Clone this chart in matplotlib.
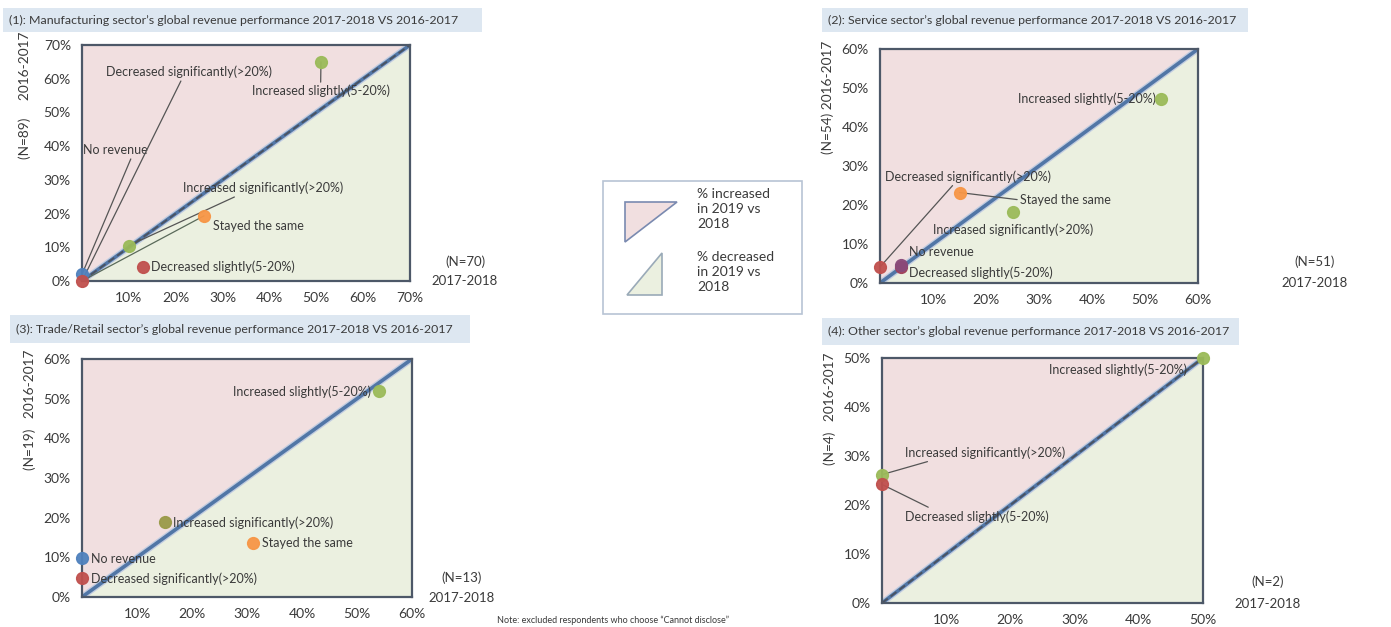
import matplotlib
matplotlib.use("Agg")
import matplotlib.pyplot as plt
from matplotlib.patches import Polygon, Rectangle

plt.rcParams['font.family'] = ['Lato', 'DejaVu Sans']

W, H = 1391, 627

# ---------------- data ----------------
titles = [
    "(1): Manufacturing sector\u2019s global revenue performance 2017-2018 VS 2016-2017",
    "(2): Service sector\u2019s global revenue performance 2017-2018 VS 2016-2017",
    "(3): Trade/Retail sector\u2019s global revenue performance 2017-2018 VS 2016-2017",
    "(4): Other sector\u2019s global revenue performance 2017-2018 VS 2016-2017",
]
n_prev = ["(N=89)", "(N=54)", "(N=19)", "(N=4)"]
n_curr = ["(N=70)", "(N=51)", "(N=13)", "(N=2)"]
axis_max = [70, 60, 60, 50]

# points: label, x = 2017-2018 %, y = 2016-2017 %, colour
p1_labels = ["No revenue", "Decreased significantly(>20%)", "Increased slightly(5-20%)",
             "Increased significantly(>20%)", "Stayed the same", "Decreased slightly(5-20%)"]
p1_x = [0, 0, 51, 10, 26, 13]
p1_y = [2, 0, 65, 10.5, 19.3, 4.2]
p1_c = ["#4f81bd", "#c0504d", "#9bbb59", "#9bbb59", "#f79646", "#c0504d"]

p2_labels = ["Increased slightly(5-20%)", "Decreased significantly(>20%)", "Stayed the same",
             "Increased significantly(>20%)", "Decreased slightly(5-20%)", "No revenue"]
p2_x = [53, 0, 15, 25, 4, 4]
p2_y = [47.2, 4.1, 23.2, 18.2, 4.0, 4.6]
p2_c = ["#9bbb59", "#c0504d", "#f79646", "#9bbb59", "#a0405a", "#8a4a7a"]

p3_labels = ["Increased slightly(5-20%)", "Increased significantly(>20%)", "Stayed the same",
             "No revenue", "Decreased significantly(>20%)"]
p3_x = [54, 15, 31, 0, 0]
p3_y = [52, 19, 13.7, 9.8, 4.8]
p3_c = ["#9bbb59", "#9a9a48", "#f79646", "#4f81bd", "#c0504d"]

p4_labels = ["Increased slightly(5-20%)", "Increased significantly(>20%)", "Decreased slightly(5-20%)"]
p4_x = [50, 0, 0]
p4_y = [50, 26.2, 24.2]
p4_c = ["#9bbb59", "#9bbb59", "#c0504d"]

# ---------------- layout ----------------
fig = plt.figure(figsize=(W / 100, H / 100), dpi=100)
fig.patch.set_facecolor("white")

bg = fig.add_axes([0, 0, 1, 1])
bg.set_xlim(0, W)
bg.set_ylim(H, 0)
bg.axis("off")

TXT = "#3a3a3a"
PINK = "#f1dfe0"
GREEN = "#ebf0e0"
LINE = "#5176a6"

def px_axes(l, t, r, b):
    return fig.add_axes([l / W, 1 - b / H, (r - l) / W, (b - t) / H])

panel_px = [(82, 45, 410, 281), (880, 49, 1198, 283), (82, 359, 412, 597), (882, 358, 1203, 603)]
title_band = [(3, 8, 482, 32), (822, 8, 1248, 32), (10, 315, 470, 343), (822, 318, 1239, 345)]
ylab_pos = [(25, 95), (828, 97), (30, 410), (830, 409)]
ylab_txt = ["(N=89)     2016-2017", "(N=54) 2016-2017", "(N=19)   2016-2017", "(N=4)   2016-2017"]
nlab_pos = [(465, 262, 281), (1315, 262, 283), (462, 578, 598), (1268, 582, 604)]

TFS = 8.9
for i in range(4):
    l, t, r, b = title_band[i]
    bg.add_patch(Rectangle((l, t), r - l, b - t, facecolor="#dde7f1", edgecolor="none"))
    bg.text(l + 6, (t + b) / 2, titles[i], fontsize=TFS, color=TXT, va="center", ha="left")
    x, y = ylab_pos[i]
    bg.text(x, y, ylab_txt[i], rotation=90, fontsize=9.8, color=TXT, ha="center", va="center")
    x, y1, y2 = nlab_pos[i]
    bg.text(x, y1, n_curr[i], fontsize=9.5, color=TXT, ha="center", va="center")
    bg.text(x, y2, "2017-2018", fontsize=9.5, color=TXT, ha="center", va="center")

# note
bg.text(497, 620, "Note: excluded respondents who choose \u201cCannot disclose\u201d",
        fontsize=6.5, color=TXT, ha="left", va="center")

# legend
bg.add_patch(Rectangle((603, 181), 199, 133, facecolor="white", edgecolor="#b8c4d4", lw=1.2))
bg.add_patch(Polygon([(625, 202), (677, 202), (625, 242)], closed=True,
                     facecolor=PINK, edgecolor="#7a8ab0", lw=1.2))
bg.add_patch(Polygon([(662, 253), (662, 295), (627, 295)], closed=True,
                     facecolor=GREEN, edgecolor="#9aaab8", lw=1.2))
bg.text(697, 188, "% increased\nin 2019 vs\n2018", fontsize=10, color=TXT, va="top", ha="left",
        linespacing=1.3)
bg.text(697, 251, "% decreased\nin 2019 vs\n2018", fontsize=10, color=TXT, va="top", ha="left",
        linespacing=1.3)

def setup(ax, m, dashed):
    ax.set_xlim(0, m)
    ax.set_ylim(0, m)
    ax.add_patch(Polygon([(0, 0), (0, m), (m, m)], closed=True, facecolor=PINK, edgecolor="none", zorder=0))
    ax.add_patch(Polygon([(0, 0), (m, 0), (m, m)], closed=True, facecolor=GREEN, edgecolor="none", zorder=0))
    ax.plot([0, m], [0, m], color="#c2cde0", lw=4.5, zorder=1, solid_capstyle="butt")
    ax.plot([0, m], [0, m], color=LINE, lw=2.6, zorder=1, solid_capstyle="butt")
    if dashed:
        ax.plot([0, m], [0, m], color="#4a5260", lw=1.3, ls=(0, (4, 2)), zorder=1)
    yt = list(range(0, m + 1, 10))
    ax.set_yticks(yt)
    ax.set_yticklabels([f"{v}%" for v in yt])
    xt = list(range(10, m + 1, 10))
    ax.set_xticks(xt)
    ax.set_xticklabels([f"{v}%" for v in xt])
    ax.tick_params(length=0, labelsize=10, colors=TXT, pad=8)
    for s in ax.spines.values():
        s.set_color("#4d5868")
        s.set_linewidth(1.6)
    for lab in ax.get_xticklabels() + ax.get_yticklabels():
        lab.set_color(TXT)

def pts(ax, xs, ys, cs):
    for x, y, c in zip(xs, ys, cs):
        ax.plot(x, y, "o", ms=8.5, color=c, zorder=5, clip_on=False, alpha=0.95)

lead = dict(arrowstyle="-", color="#555555", lw=0.9, shrinkA=0, shrinkB=0)
fs = 9.0

# panel 1
ax1 = px_axes(*panel_px[0]); setup(ax1, 70, True)
ax1.plot([p1_x[4], 0], [p1_y[4], 0], color="#5a6a5a", lw=0.9, zorder=2)
pts(ax1, p1_x, p1_y, p1_c)
ax1.annotate(p1_labels[0], xy=(p1_x[0], p1_y[0]), xytext=(0.3, 38.8), fontsize=fs, color=TXT,
             va="center", ha="left", arrowprops=dict(lead, relpos=(0.75, 0)))
ax1.annotate(p1_labels[1], xy=(p1_x[1], p1_y[1]), xytext=(5.1, 62), fontsize=fs, color=TXT,
             va="center", ha="left", arrowprops=dict(lead, relpos=(0.46, 0)))
ax1.annotate(p1_labels[2], xy=(p1_x[2], p1_y[2]), xytext=(36.2, 56.3), fontsize=fs, color=TXT,
             va="center", ha="left", arrowprops=dict(lead, relpos=(0.5, 1)))
ax1.annotate(p1_labels[3], xy=(p1_x[3], p1_y[3]), xytext=(21.5, 27.6), fontsize=fs, color=TXT,
             va="center", ha="left", arrowprops=dict(lead, relpos=(0.36, 0)))
ax1.text(28, 16.2, p1_labels[4], fontsize=fs, color=TXT, va="center", ha="left")
ax1.text(14.8, 4.2, p1_labels[5], fontsize=fs, color=TXT, va="center", ha="left")

# panel 2
ax2 = px_axes(*panel_px[1]); setup(ax2, 60, False)
pts(ax2, p2_x, p2_y, p2_c)
ax2.text(52, 47.2, p2_labels[0], fontsize=fs, color=TXT, va="center", ha="right")
ax2.annotate(p2_labels[1], xy=(p2_x[1], p2_y[1]), xytext=(1, 27.3), fontsize=fs, color=TXT,
             va="center", ha="left", arrowprops=dict(lead, relpos=(0.42, 0)))
ax2.annotate(p2_labels[2], xy=(p2_x[2], p2_y[2]), xytext=(26.4, 21.3), fontsize=fs, color=TXT,
             va="center", ha="left", arrowprops=dict(lead, relpos=(0, 0.5)))
ax2.text(10, 13.6, p2_labels[3], fontsize=fs, color=TXT, va="center", ha="left")
ax2.text(5.5, 2.6, p2_labels[4], fontsize=fs, color=TXT, va="center", ha="left")
ax2.text(5.5, 8.0, p2_labels[5], fontsize=fs, color=TXT, va="center", ha="left")

# panel 3
ax3 = px_axes(*panel_px[2]); setup(ax3, 60, False)
pts(ax3, p3_x, p3_y, p3_c)
ax3.text(52.5, 51.7, p3_labels[0], fontsize=fs, color=TXT, va="center", ha="right")
ax3.text(16.5, 18.7, p3_labels[1], fontsize=fs, color=TXT, va="center", ha="left")
ax3.text(32.7, 13.7, p3_labels[2], fontsize=fs, color=TXT, va="center", ha="left")
ax3.text(1.6, 9.7, p3_labels[3], fontsize=fs, color=TXT, va="center", ha="left")
ax3.text(1.6, 4.7, p3_labels[4], fontsize=fs, color=TXT, va="center", ha="left")

# panel 4
ax4 = px_axes(*panel_px[3]); setup(ax4, 50, True)
pts(ax4, p4_x, p4_y, p4_c)
ax4.annotate(p4_labels[0], xy=(p4_x[0], p4_y[0]), xytext=(26, 47.6), fontsize=fs, color=TXT,
             va="center", ha="left", arrowprops=dict(lead, relpos=(1, 0.5)))
ax4.annotate(p4_labels[1], xy=(p4_x[1], p4_y[1]), xytext=(3.6, 30.7), fontsize=fs, color=TXT,
             va="center", ha="left", arrowprops=dict(lead, relpos=(0.2, 0)))
ax4.annotate(p4_labels[2], xy=(p4_x[2], p4_y[2]), xytext=(3.6, 17.7), fontsize=fs, color=TXT,
             va="center", ha="left", arrowprops=dict(lead, relpos=(0.2, 1)))

fig.savefig("out.png", dpi=100)
